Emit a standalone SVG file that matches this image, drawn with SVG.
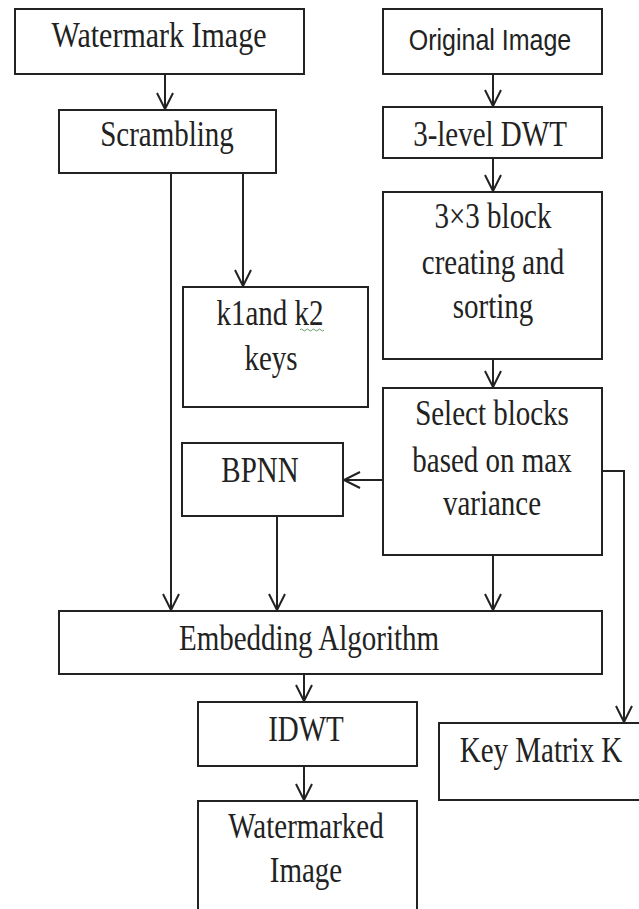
<svg xmlns="http://www.w3.org/2000/svg" width="639" height="909" viewBox="0 0 639 909">
<style>
.box{fill:#fff;stroke:#222;stroke-width:2}
.t{font-family:"Liberation Serif","Times New Roman",serif;font-size:29px;fill:#222;text-anchor:middle}
.s{font-family:"Liberation Sans",Arial,sans-serif;font-size:25px;fill:#222;text-anchor:middle}
.c{fill:none;stroke:#222;stroke-width:2}
</style>
<defs>
<marker id="ah" markerUnits="userSpaceOnUse" markerWidth="20" markerHeight="22" refX="17" refY="9" orient="auto">
<path d="M1,1 L17,9 L1,17" fill="none" stroke="#222" stroke-width="2"/>
</marker>
</defs>
<rect width="639" height="909" fill="#fff"/>
<g id="connectors">
<line class="c" x1="165" y1="74" x2="165" y2="109" marker-end="url(#ah)"/>
<line class="c" x1="243" y1="173" x2="243" y2="286" marker-end="url(#ah)"/>
<line class="c" x1="171" y1="173" x2="171" y2="610" marker-end="url(#ah)"/>
<line class="c" x1="493" y1="74" x2="493" y2="106" marker-end="url(#ah)"/>
<line class="c" x1="493" y1="158" x2="493" y2="191" marker-end="url(#ah)"/>
<line class="c" x1="493" y1="359" x2="493" y2="387" marker-end="url(#ah)"/>
<line class="c" x1="383" y1="480" x2="344" y2="480" marker-end="url(#ah)"/>
<line class="c" x1="277" y1="516" x2="277" y2="610" marker-end="url(#ah)"/>
<line class="c" x1="493" y1="555" x2="493" y2="610" marker-end="url(#ah)"/>
<polyline class="c" points="602,471 624,471 624,722" marker-end="url(#ah)"/>
<line class="c" x1="304" y1="674" x2="304" y2="701" marker-end="url(#ah)"/>
<line class="c" x1="304" y1="766" x2="304" y2="800" marker-end="url(#ah)"/>
</g>
<g id="watermark">
<rect class="box" x="15" y="9" width="289" height="65"/>
<text class="t" transform="translate(159,47) scale(1,1.2)" style="font-size:30px">Watermark Image</text>
</g>
<g id="scrambling">
<rect class="box" x="59" y="110" width="217" height="63"/>
<text class="t" transform="translate(167,146) scale(1,1.2)">Scrambling</text>
</g>
<g id="original">
<rect class="box" x="383" y="9" width="219" height="65"/>
<text class="s" transform="translate(490,50) scale(1,1.15)">Original Image</text>
</g>
<g id="dwt">
<rect class="box" x="383" y="107" width="219" height="51"/>
<text class="t" transform="translate(490,146) scale(1,1.2)">3-level DWT</text>
</g>
<g id="block">
<rect class="box" x="383" y="192" width="219" height="167"/>
<text class="t" transform="translate(493,228) scale(1,1.2)">3×3 block</text>
<text class="t" transform="translate(493,274) scale(1,1.2)">creating and</text>
<text class="t" transform="translate(493,318) scale(1,1.2)">sorting</text>
</g>
<g id="keys">
<rect class="box" x="183" y="287" width="185" height="120"/>
<text class="t" transform="translate(270,325) scale(1,1.2)">k1and k2</text>
<path d="M300,330 q1.5,-2 3,0 t3,0 t3,0 t3,0 t3,0 t3,0 t3,0 t3,0" fill="none" stroke="#6a9a6a" stroke-width="1"/>
<text class="t" transform="translate(271,370) scale(1,1.2)">keys</text>
</g>
<g id="select">
<rect class="box" x="383" y="388" width="219" height="167"/>
<text class="t" transform="translate(492,425) scale(1,1.2)">Select blocks</text>
<text class="t" transform="translate(492,472) scale(1,1.2)">based on max</text>
<text class="t" transform="translate(492,515) scale(1,1.2)">variance</text>
</g>
<g id="bpnn">
<rect class="box" x="182" y="443" width="161" height="73"/>
<text class="t" transform="translate(260,482) scale(1,1.2)">BPNN</text>
</g>
<g id="embedding">
<rect class="box" x="59" y="611" width="543" height="63"/>
<text class="t" transform="translate(309,650) scale(1,1.2)">Embedding Algorithm</text>
</g>
<g id="idwt">
<rect class="box" x="198" y="702" width="219" height="64"/>
<text class="t" transform="translate(306,741) scale(1,1.2)">IDWT</text>
</g>
<g id="keymatrix">
<rect class="box" x="439" y="723" width="220" height="77"/>
<text class="t" transform="translate(541,762) scale(1,1.2)">Key Matrix K</text>
</g>
<g id="watermarked">
<rect class="box" x="198" y="801" width="219" height="130"/>
<text class="t" transform="translate(306,838) scale(1,1.2)">Watermarked</text>
<text class="t" transform="translate(306,882) scale(1,1.2)">Image</text>
</g>
</svg>
